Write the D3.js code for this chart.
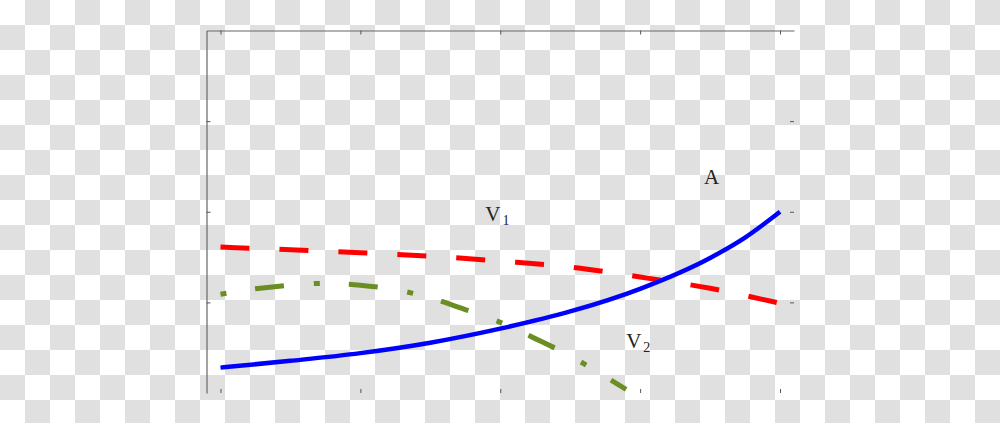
<!doctype html>
<html>
<head>
<meta charset="utf-8"/>
<title>A, V1, V2</title>
<script src="https://d3js.org/d3.v7.min.js"></script>
<style>
 html, body { margin: 0; padding: 0; }
 svg { display: block; }
</style>
</head>
<body>
<script type="text/javascript">
    // ticks (no labels shown on the original)
    var xTicks = [0, 1, 2, 3, 4];
    var yTicks = [1, 2, 3];

    // curve A (blue, solid)
    var aX = [0, 0.5, 1, 1.5, 2, 2.5, 3, 3.5, 3.75, 4];
    var aY = [0.28, 0.355, 0.44, 0.555, 0.71, 0.9, 1.15, 1.49, 1.715, 2.0];

    // curve V1 (red, dashed)
    var v1X = [0, 0.5, 1, 1.5, 2, 2.5, 3, 3.5, 4];
    var v1Y = [1.61, 1.58, 1.547, 1.51, 1.455, 1.39, 1.28, 1.155, 0.99];

    // curve V2 (green, dash-dot)
    var v2X = [0, 0.25, 0.5, 0.75, 1, 1.25, 1.5, 1.75, 2, 2.25, 2.5, 2.75, 2.9];
    var v2Y = [1.09, 1.15, 1.19, 1.21, 1.19, 1.14, 1.05, 0.92, 0.78, 0.6, 0.41, 0.18, 0.04];

    // labels
    var labels = [
        {base: "V", sub: "1", x: 1.893, y: 1.898},
        {base: "A", sub: "",  x: 3.457, y: 2.307},
        {base: "V", sub: "2", x: 2.9,   y: 0.497}
    ];

    var W = 1000, H = 423;

    var svg = d3.select("body")
        .append("svg")
        .attr("width", W)
        .attr("height", H);

    // checkerboard background (transparent look)
    var defs = svg.append("defs");
    var pat = defs.append("pattern")
        .attr("id", "checker")
        .attr("width", 50)
        .attr("height", 50)
        .attr("patternUnits", "userSpaceOnUse");
    pat.append("rect").attr("width", 50).attr("height", 50).attr("fill", "#ffffff");
    pat.append("rect").attr("x", 25).attr("y", 0).attr("width", 25).attr("height", 25).attr("fill", "#e0e0e0");
    pat.append("rect").attr("x", 0).attr("y", 25).attr("width", 25).attr("height", 25).attr("fill", "#e0e0e0");
    svg.append("rect").attr("width", W).attr("height", H).attr("fill", "url(#checker)");

    var x = d3.scaleLinear().domain([-0.1, 4.1]).range([206.5, 794]);
    var y = d3.scaleLinear().domain([0, 4]).range([393, 30.5]);

    // axes: inward ticks, only top and left spines drawn
    function styleAxis(g, keepDomain) {
        g.selectAll(".tick line").attr("stroke", "#555").attr("stroke-width", 1);
        g.selectAll(".tick text").remove();
        if (keepDomain) {
            g.select(".domain").attr("stroke", "#666").attr("stroke-width", 1.2);
        } else {
            g.select(".domain").remove();
        }
    }

    svg.append("g")
        .attr("transform", "translate(0," + y(0) + ")")
        .call(d3.axisBottom(x).tickValues(xTicks).tickSizeInner(-4).tickSizeOuter(0).tickFormat(""))
        .call(styleAxis, false);
    svg.append("g")
        .attr("transform", "translate(0," + y(4) + ")")
        .call(d3.axisTop(x).tickValues(xTicks).tickSizeInner(-4).tickSizeOuter(0).tickFormat(""))
        .call(styleAxis, true);
    svg.append("g")
        .attr("transform", "translate(" + x(-0.1) + ",0)")
        .call(d3.axisLeft(y).tickValues(yTicks).tickSizeInner(-4).tickSizeOuter(0).tickFormat(""))
        .call(styleAxis, true);
    svg.append("g")
        .attr("transform", "translate(" + x(4.1) + ",0)")
        .call(d3.axisRight(y).tickValues(yTicks).tickSizeInner(-4).tickSizeOuter(0).tickFormat(""))
        .call(styleAxis, false);

    var line = d3.line()
        .x(function(d){ return x(d[0]); })
        .y(function(d){ return y(d[1]); })
        .curve(d3.curveMonotoneX);

    function pairs(xs, ys) {
        return xs.map(function(v, i){ return [v, ys[i]]; });
    }

    svg.append("path")
        .datum(pairs(v1X, v1Y))
        .attr("d", line)
        .attr("fill", "none")
        .attr("stroke", "#ff0000")
        .attr("stroke-width", 5)
        .attr("stroke-dasharray", "29,30");

    svg.append("path")
        .datum(pairs(v2X, v2Y))
        .attr("d", line)
        .attr("fill", "none")
        .attr("stroke", "#6b8e23")
        .attr("stroke-width", 5)
        .attr("stroke-dasharray", "6,29,29,30");

    svg.append("path")
        .datum(pairs(aX, aY))
        .attr("d", line)
        .attr("fill", "none")
        .attr("stroke", "#0000ff")
        .attr("stroke-width", 4.5);

    var t = svg.selectAll("text.lbl")
        .data(labels)
        .enter()
        .append("text")
        .attr("class", "lbl")
        .attr("x", function(d){ return x(d.x); })
        .attr("y", function(d){ return y(d.y); })
        .attr("font-family", "'Liberation Serif', 'DejaVu Serif', serif")
        .attr("font-size", 21)
        .attr("fill", "#222");
    t.append("tspan").text(function(d){ return d.base; });
    t.append("tspan")
        .attr("dx", 2)
        .attr("dy", 4)
        .attr("font-size", 14)
        .attr("fill", "#222")
        .text(function(d){ return d.sub; });
</script>
</body>
</html>
